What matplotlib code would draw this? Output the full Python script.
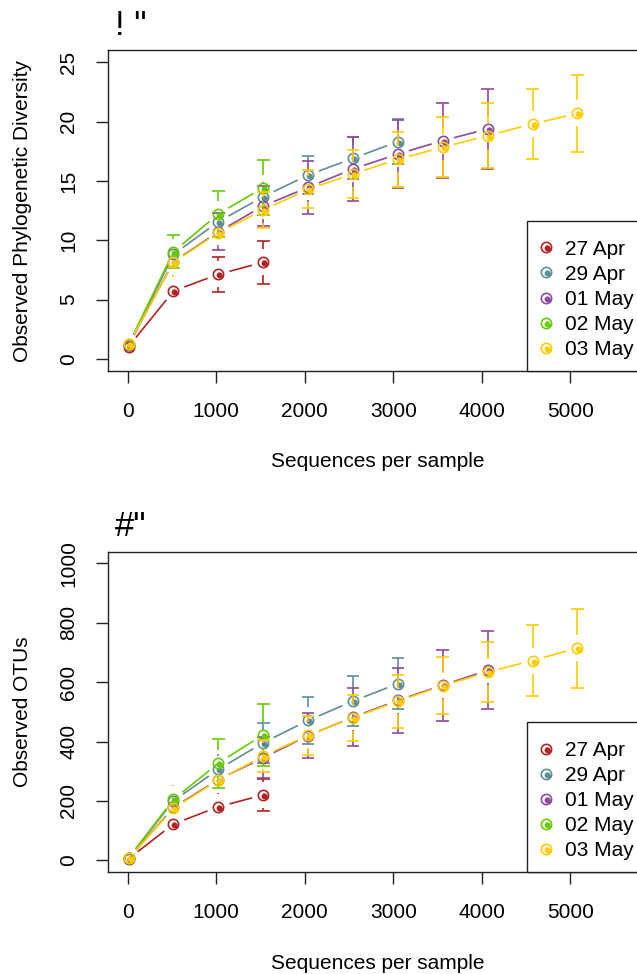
import numpy as np
import matplotlib
matplotlib.use("Agg")
import matplotlib.pyplot as plt
from matplotlib.path import Path
from matplotlib.patches import Rectangle

plt.rcParams['font.family'] = ['Liberation Sans', 'DejaVu Sans']

# ---------------- data ----------------
seqs = [10, 517, 1024, 1531, 2038, 2545, 3052, 3559, 4066, 4573, 5080]
series = ['27 Apr', '29 Apr', '01 May', '02 May', '03 May']
colors = ['#B22222', '#5F8E98', '#8E4A9A', '#66CC00', '#FFCC00']

# Observed phylogenetic diversity (mean, sd)
pd_27apr = [1.05, 5.73, 7.14, 8.15]
pd_27apr_sd = [0.1, 1.12, 1.47, 1.80]
pd_29apr = [1.15, 8.82, 11.57, 13.68, 15.50, 16.91, 18.31]
pd_29apr_sd = [0.1, 1.0, 0.9, 1.26, 1.60, 1.77, 1.89]
pd_01may = [1.20, 8.20, 10.72, 12.89, 14.47, 16.01, 17.27, 18.40, 19.38]
pd_01may_sd = [0.1, 1.1, 1.56, 1.70, 2.25, 2.67, 2.90, 3.15, 3.35]
pd_02may = [1.25, 9.04, 12.22, 14.44]
pd_02may_sd = [0.1, 1.40, 1.96, 2.33]
pd_03may = [1.25, 8.15, 10.64, 12.55, 14.30, 15.59, 16.83, 17.84, 18.82, 19.80, 20.70]
pd_03may_sd = [0.1, 1.2, 1.2, 1.50, 1.60, 2.02, 2.33, 2.53, 2.73, 2.97, 3.23]

# Observed OTUs (mean, sd)
otu_27apr = [5, 122, 180, 220]
otu_27apr_sd = [3, 45, 46, 55]
otu_29apr = [7, 200, 306, 396, 471, 536, 595]
otu_29apr_sd = [3, 45, 52, 68, 79, 85, 87]
otu_01may = [6, 178, 272, 345, 420, 482, 539, 590, 640]
otu_01may_sd = [3, 42, 47, 69, 76, 97, 109, 120, 131]
otu_02may = [8, 205, 327, 423]
otu_02may_sd = [3, 50, 83, 104]
otu_03may = [6, 175, 270, 351, 421, 480, 536, 588, 634, 673, 715]
otu_03may_sd = [3, 42, 45, 53, 65, 78, 89, 96, 100, 121, 133]

pd_means = [pd_27apr, pd_29apr, pd_01may, pd_02may, pd_03may]
pd_sds = [pd_27apr_sd, pd_29apr_sd, pd_01may_sd, pd_02may_sd, pd_03may_sd]
otu_means = [otu_27apr, otu_29apr, otu_01may, otu_02may, otu_03may]
otu_sds = [otu_27apr_sd, otu_29apr_sd, otu_01may_sd, otu_02may_sd, otu_03may_sd]

xticks = [0, 1000, 2000, 3000, 4000, 5000]
pd_yticks = [0, 5, 10, 15, 20, 25]
otu_yticks = [0, 200, 400, 600, 800, 1000]

# ---------------- layout (pixels) ----------------
W, H = 637, 974
AX_L, AX_R = 107.7, 647.9
AX_H = 320.5
PD_TOP, OTU_TOP = 50.4, 551.6
LINE_GAP = 11.5
BAR_GAP = 13.0
CAP_HALF = 6.3

# marker: ring with offset filled dot
t = np.linspace(0, 2 * np.pi, 64, endpoint=False)
def _circ(cx, cy, r, ccw=True):
    tt = t if ccw else t[::-1]
    v = np.column_stack([cx + r * np.cos(tt), cy + r * np.sin(tt)])
    v = np.vstack([v, v[:1]])
    c = [Path.MOVETO] + [Path.LINETO] * (len(tt) - 1) + [Path.CLOSEPOLY]
    return v, c
parts = [_circ(0, 0, 1.0, True), _circ(0, 0, 0.72, False), _circ(0.18, -0.14, 0.5, True)]
mpath = Path(np.vstack([p[0] for p in parts]), sum([p[1] for p in parts], []))
MS = 8.6

fig = plt.figure(figsize=(W / 100, H / 100), dpi=100)


def draw_panel(top_px, means, sds, ylim, yticks, ylabel, title, legend_top_px):
    ax = fig.add_axes([AX_L / W, 1 - (top_px + AX_H) / H, (AX_R - AX_L) / W, AX_H / H])
    ax.set_xlim(-226, 5876)
    ax.set_ylim(*ylim)
    ax.set_xticks(xticks)
    ax.set_xticklabels([str(v) for v in xticks])
    ax.set_yticks(yticks)
    ax.set_yticklabels([str(v) for v in yticks], rotation=90, va='center')
    ax.tick_params(axis='both', direction='out', length=8.6, width=1.0,
                   labelsize=15, color='#222222')
    ax.tick_params(axis='x', pad=13.5)
    ax.tick_params(axis='y', pad=12.5)
    for s in ax.spines.values():
        s.set_linewidth(1.0)
        s.set_color('#222222')
    ax.set_xlabel('Sequences per sample', fontsize=15, va='center')
    ax.xaxis.set_label_coords(0.5, -91.0 / AX_H)
    ax.set_ylabel(ylabel, fontsize=15, va='center')
    ax.yaxis.set_label_coords((22.5 - AX_L) / (AX_R - AX_L), 0.5)

    tr = ax.transData
    inv = tr.inverted()
    for i, (m, sd) in enumerate(zip(means, sds)):
        c = colors[i]
        xs = np.array(seqs[:len(m)], float)
        ys = np.array(m, float)
        es = np.array(sd, float)
        P = tr.transform(np.column_stack([xs, ys]))
        # connecting lines with gaps (type = "b")
        for a, b in zip(P[:-1], P[1:]):
            d = b - a
            L = np.hypot(*d)
            if L > 2 * LINE_GAP:
                u = d / L
                seg = inv.transform(np.array([a + u * LINE_GAP, b - u * LINE_GAP]))
                ax.plot(seg[:, 0], seg[:, 1], color=c, lw=1.2, zorder=2 + i,
                        solid_capstyle='butt')
        # error bars with gaps
        Pu = tr.transform(np.column_stack([xs, ys + es]))
        Pl = tr.transform(np.column_stack([xs, ys - es]))
        for p, pu, pl in zip(P, Pu, Pl):
            for end, sgn in ((pu, 1), (pl, -1)):
                start_y = p[1] + sgn * BAR_GAP
                length = (end[1] - start_y) * sgn
                if length <= 0:
                    continue
                seg = inv.transform(np.array([[p[0], start_y], [p[0], end[1]]]))
                ax.plot(seg[:, 0], seg[:, 1], color=c, lw=1.2, zorder=2 + i,
                        solid_capstyle='butt')
                if length > 2.5:
                    cap = inv.transform(np.array([[p[0] - CAP_HALF, end[1]],
                                                  [p[0] + CAP_HALF, end[1]]]))
                    ax.plot(cap[:, 0], cap[:, 1], color=c, lw=1.2, zorder=2 + i,
                            solid_capstyle='butt')
        ax.plot(xs, ys, linestyle='none', marker=mpath, ms=MS, mfc=c, mec='none',
                mew=0, zorder=3 + i)

    # legend (bottom right, box touching axes)
    def fx(px):
        return (px - AX_L) / (AX_R - AX_L)
    bottom_px = top_px + AX_H
    def fy(py):
        return (bottom_px - py) / AX_H
    ax.add_patch(Rectangle((fx(527), 0), 1 - fx(527), fy(legend_top_px),
                           transform=ax.transAxes, facecolor='white',
                           edgecolor='#222222', lw=1.0, zorder=20, clip_on=False))
    for k, name in enumerate(series):
        yc = legend_top_px + 26.5 + 25 * k
        ax.plot([fx(545.7)], [fy(yc)], transform=ax.transAxes, linestyle='none',
                marker=mpath, ms=MS, mfc=colors[k], mec='none', zorder=21,
                clip_on=False)
        ax.text(fx(565), fy(yc + 7.5), name, transform=ax.transAxes, fontsize=15,
                ha='left', va='baseline', zorder=21)

    fig.text(115 / W, 1 - (top_px - 15.4) / H, title, fontsize=25,
             ha='left', va='baseline')
    return ax


draw_panel(PD_TOP, pd_means, pd_sds, (-1, 26), pd_yticks,
           'Observed Phylogenetic Diversity', '! "', 221)
draw_panel(OTU_TOP, otu_means, otu_sds, (-40, 1040), otu_yticks,
           'Observed OTUs', '#"', 722)

fig.savefig('out.png', dpi=100)
